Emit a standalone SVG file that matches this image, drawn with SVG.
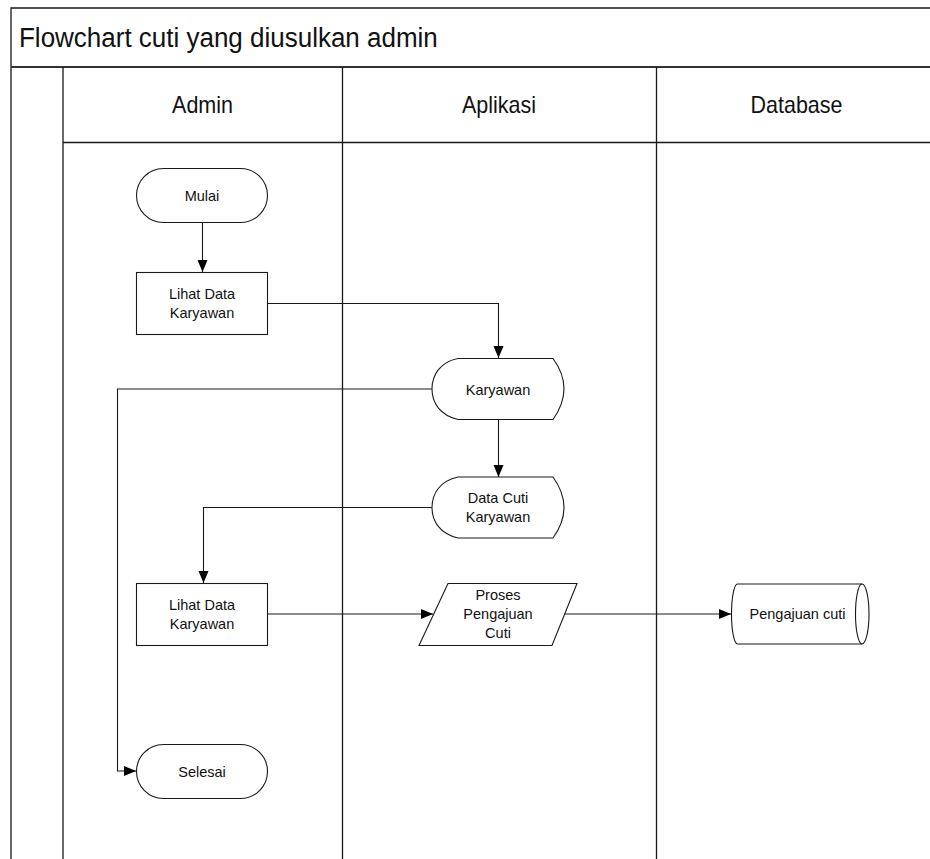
<svg xmlns="http://www.w3.org/2000/svg" width="930" height="859" viewBox="0 0 930 859">
  <style>
    .frame { fill: none; stroke: #1a1a1a; stroke-width: 1.3; }
    .band { fill: none; stroke: #333; stroke-width: 2; }
    .shape { fill: #fff; stroke: #1a1a1a; stroke-width: 1.1; }
    .conn { fill: none; stroke: #1a1a1a; stroke-width: 1.1; }
    .title { font-family: "Liberation Sans", Arial, sans-serif; font-size: 26px; fill: #111; }
    .lane { font-family: "Liberation Sans", Arial, sans-serif; font-size: 21.5px; fill: #111; text-anchor: middle; }
    .label { font-family: "Liberation Sans", Arial, sans-serif; font-size: 14.5px; fill: #111; text-anchor: middle; }
  </style>
  <defs>
    <marker id="arrow" markerUnits="userSpaceOnUse" markerWidth="13" markerHeight="11" refX="12" refY="5" orient="auto">
      <path d="M0,0 L12,5 L0,10 Z" fill="#000"/>
    </marker>
  </defs>

  <rect width="930" height="859" fill="#fff"/>

  <!-- swimlane frame -->
  <g id="pool">
    <path class="frame" d="M11,859 V8 H937"/>
    <path class="band" d="M11,67 H937"/>
    <path class="frame" d="M63,67 V859 M342.5,67 V859 M656.5,67 V859 M63,142.5 H937"/>
    <text class="title" transform="translate(19,46.5) scale(1,1.07)">Flowchart cuti yang diusulkan admin</text>
    <text class="lane" transform="translate(202.5,113) scale(1,1.07)">Admin</text>
    <text class="lane" transform="translate(499,113) scale(1,1.07)">Aplikasi</text>
    <text class="lane" transform="translate(796.5,113) scale(1,1.07)">Database</text>
  </g>

  <!-- connectors -->
  <g id="connectors">
    <path class="conn" d="M202.5,222 V272" marker-end="url(#arrow)"/>
    <path class="conn" d="M268,303.5 H498.5 V358" marker-end="url(#arrow)"/>
    <path class="conn" d="M432,389 H117.5 V771 H136" marker-end="url(#arrow)"/>
    <path class="conn" d="M498.5,419 V477" marker-end="url(#arrow)"/>
    <path class="conn" d="M432,507.5 H203.5 V583" marker-end="url(#arrow)"/>
    <path class="conn" d="M268,614 H433" marker-end="url(#arrow)"/>
    <path class="conn" d="M565,614 H731" marker-end="url(#arrow)"/>
  </g>

  <!-- nodes -->
  <g id="mulai">
    <rect class="shape" x="136.5" y="168.5" width="131" height="54" rx="27" ry="27"/>
    <text class="label" x="202" y="201">Mulai</text>
  </g>

  <g id="lihat-data-1">
    <rect class="shape" x="136.5" y="272.5" width="131" height="62"/>
    <text class="label" x="202" y="299">Lihat Data</text>
    <text class="label" x="202" y="318">Karyawan</text>
  </g>

  <g id="karyawan">
    <path class="shape" d="M458,358.5 H553 Q575,388.5 553,419.5 H458 C440,415 432,403 432,389 C432,375 440,362 458,358.5 Z"/>
    <text class="label" x="498" y="395">Karyawan</text>
  </g>

  <g id="data-cuti">
    <path class="shape" d="M458,477 H553 Q575,507.5 553,538 H458 C440,533.5 432,521.5 432,507.5 C432,493.5 440,481 458,477 Z"/>
    <text class="label" x="498" y="503">Data Cuti</text>
    <text class="label" x="498" y="522">Karyawan</text>
  </g>

  <g id="lihat-data-2">
    <rect class="shape" x="136.5" y="583.5" width="131" height="62"/>
    <text class="label" x="202" y="609.5">Lihat Data</text>
    <text class="label" x="202" y="628.5">Karyawan</text>
  </g>

  <g id="proses">
    <path class="shape" d="M448,583.5 H577 L552,645.5 H419 Z"/>
    <text class="label" x="498" y="599.5">Proses</text>
    <text class="label" x="498" y="618.5">Pengajuan</text>
    <text class="label" x="498" y="637.5">Cuti</text>
  </g>

  <g id="pengajuan-cuti">
    <path class="shape" d="M737.5,584 H862 A7,30 0 0 1 862,644 H737.5 A6,30 0 0 1 737.5,584 Z"/>
    <path class="conn" d="M862,584 A6.5,30 0 0 0 862,644"/>
    <text class="label" x="797.5" y="619">Pengajuan cuti</text>
  </g>

  <g id="selesai">
    <rect class="shape" x="136.5" y="744.5" width="131" height="54" rx="27" ry="27"/>
    <text class="label" x="202" y="777">Selesai</text>
  </g>
</svg>
